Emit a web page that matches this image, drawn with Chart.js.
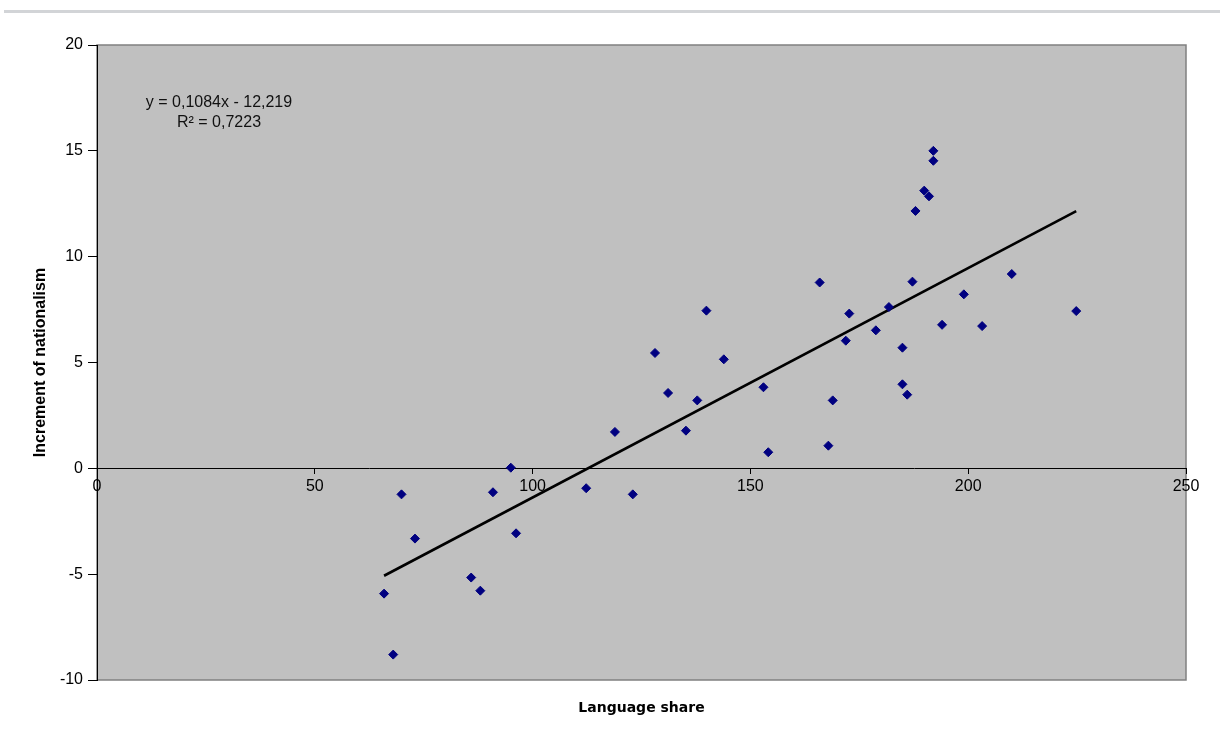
<!DOCTYPE html>
<html>
<head>
<meta charset="utf-8">
<script src="https://cdn.jsdelivr.net/npm/chart.js@4.4.1/dist/chart.umd.min.js"></script>
<style>
    html, body { margin: 0; padding: 0; background: #fff; }
    #wrap { position: relative; width: 1220px; height: 735px; }
    #topRule { position: absolute; left: 4px; right: 0; top: 10px; height: 3px; background: #d2d4d7; }
    #chart { position: absolute; left: 0; top: 0; }
</style>
</head>
<body>
<div id="wrap">
    <div id="topRule"></div>
    <canvas id="chart" width="1220" height="735"></canvas>
</div>
<script>
// --- Data ---
const langShare = [65.9, 68.0, 69.9, 73.0, 85.9, 88.0, 90.9, 95.0, 96.2, 112.3,
    118.9, 123.0, 128.1, 131.1, 135.2, 137.8, 139.9, 143.9, 153.0, 154.1,
    165.9, 167.9, 168.9, 171.9, 172.7, 178.8, 181.8, 184.9, 184.9, 186.0,
    187.2, 187.9, 189.9, 191.0, 192.0, 192.0, 194.0, 199.0, 203.2, 210.0, 224.8];
const nationalism = [-5.92, -8.80, -1.23, -3.32, -5.16, -5.78, -1.13, 0.03, -3.07, -0.94,
    1.72, -1.23, 5.45, 3.56, 1.78, 3.21, 7.45, 5.15, 3.83, 0.76,
    8.78, 1.07, 3.21, 6.03, 7.31, 6.52, 7.62, 5.70, 3.97, 3.48,
    8.82, 12.16, 13.12, 12.85, 15.00, 14.53, 6.78, 8.22, 6.72, 9.18, 7.43];

// trendline from the equation printed on the chart
const slope = 0.1084;
const intercept = -12.219;
const equationLines = ['y = 0,1084x - 12,219', 'R\u00b2 = 0,7223'];

const xTitle = 'Language share';
const yTitle = 'Increment of nationalism';

const xMin = Math.min(...langShare);
const xMax = Math.max(...langShare);
const trend = [xMin, xMax].map(x => ({ x: x, y: slope * x + intercept }));

// --- Plugins ---
const plotBackground = {
    id: 'plotBackground',
    beforeDraw(chart) {
        const { ctx, chartArea: a } = chart;
        ctx.save();
        ctx.fillStyle = '#c0c0c0';
        ctx.fillRect(a.left, a.top, a.right - a.left, a.bottom - a.top);
        ctx.strokeStyle = '#808080';
        ctx.lineWidth = 1.5;
        ctx.strokeRect(a.left, a.top, a.right - a.left, a.bottom - a.top);
        ctx.restore();
    }
};

const equationLabel = {
    id: 'equationLabel',
    afterDraw(chart) {
        const { ctx, chartArea: a } = chart;
        ctx.save();
        ctx.fillStyle = '#111';
        ctx.font = '16px "Liberation Sans", Arial, sans-serif';
        ctx.textAlign = 'center';
        ctx.textBaseline = 'middle';
        ctx.fillText(equationLines[0], a.left + 122, a.top + 58);
        ctx.fillText(equationLines[1], a.left + 122, a.top + 78);
        ctx.restore();
    }
};

// --- Chart ---
const tickFont = { family: '"Liberation Sans", Arial, sans-serif', size: 16 };

new Chart(document.getElementById('chart').getContext('2d'), {
    type: 'scatter',
    data: {
        datasets: [{
            label: 'points',
            data: langShare.map((x, i) => ({ x: x, y: nationalism[i] })),
            pointStyle: 'rectRot',
            pointRadius: 4.5,
            pointBackgroundColor: '#000080',
            pointBorderColor: '#000080',
            pointBorderWidth: 1,
            order: 0
        }, {
            type: 'line',
            label: 'trend',
            data: trend,
            borderColor: '#000',
            borderWidth: 2.6,
            pointRadius: 0,
            fill: false,
            order: 1
        }]
    },
    options: {
        responsive: false,
        animation: false,
        layout: { padding: { left: 0, right: 34, top: 45, bottom: 8.2 } },
        scales: {
            x: {
                type: 'linear',
                min: 0,
                max: 250,
                position: { y: 0 },
                ticks: { stepSize: 50, color: '#000', font: tickFont, padding: 4 },
                grid: { drawOnChartArea: false, tickLength: 5, tickColor: '#000' },
                border: { color: '#000', width: 1 }
            },
            y: {
                min: -10,
                max: 20,
                ticks: { stepSize: 5, color: '#000', font: tickFont, padding: 5 },
                grid: { drawOnChartArea: false, tickLength: 9, tickColor: '#000' },
                border: { color: '#000', width: 1 },
                title: {
                    display: true,
                    text: yTitle,
                    color: '#000',
                    font: { family: '"Liberation Sans", Arial, sans-serif', size: 16, weight: 'bold' },
                    padding: { top: 31, bottom: 4 }
                },
                afterFit(scale) { scale.width = 97; }
            }
        },
        plugins: {
            legend: { display: false },
            tooltip: { enabled: false },
            title: {
                display: true,
                position: 'bottom',
                fullSize: false,
                text: xTitle,
                color: '#000',
                font: { family: '"DejaVu Sans", Verdana, sans-serif', size: 14, weight: 'bold' },
                padding: { top: 20, bottom: 10 }
            }
        }
    },
    plugins: [plotBackground, equationLabel]
});
</script>
</body>
</html>
